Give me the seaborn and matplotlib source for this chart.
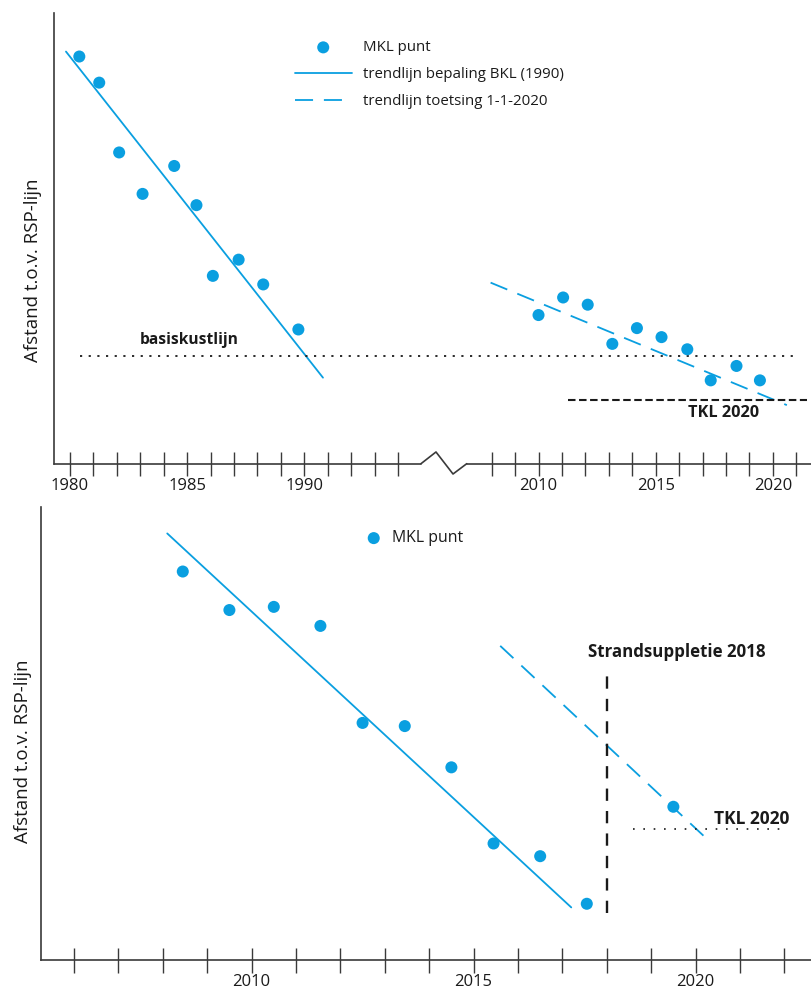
import numpy as np
import pandas as pd
import seaborn as sns
import matplotlib.pyplot as plt

# ---- bovenste grafiek: MKL punten (jaar, afstand t.o.v. RSP-lijn) ----
mkl_jaar_oud = [1980.4, 1981.25, 1982.1, 1983.1, 1984.45, 1985.4, 1986.1, 1987.2, 1988.25, 1989.75]
mkl_oud = [90.4, 84.6, 69.1, 59.9, 66.1, 57.4, 41.7, 45.3, 39.8, 29.8]
mkl_jaar_nieuw = [2010.0, 2011.05, 2012.1, 2013.15, 2014.2, 2015.25, 2016.35, 2017.35, 2018.45, 2019.45]
mkl_nieuw = [33.0, 36.9, 35.3, 26.6, 30.1, 28.1, 25.4, 18.5, 21.7, 18.5]

bkl_trend_jaar = [1979.83, 1990.8]
bkl_trend = [91.5, 19.1]
toets_trend_jaar = [2007.8, 2020.6]
toets_trend = [40.2, 13.0]
basiskustlijn = 23.9
basiskustlijn_jaren = [1980.45, 2021.0]
tkl_boven = 14.1
tkl_boven_jaren = [2011.25, 2021.45]

ticks_boven = list(range(1980, 1995)) + list(range(2008, 2022))
labels_boven = [str(j) if j % 5 == 0 else '' for j in ticks_boven]

# ---- onderste grafiek ----
mkl_jaar_2 = [2008.45, 2009.5, 2010.5, 2011.55, 2012.5, 2013.45, 2014.5, 2015.45, 2016.5, 2017.55, 2019.5]
mkl_2 = [85.7, 77.2, 77.9, 73.7, 52.3, 51.6, 42.5, 25.7, 22.9, 12.4, 33.8]
trend_jaar_2 = [2008.1, 2017.2]
trend_2 = [94.1, 11.6]
toets_jaar_2 = [2015.6, 2020.3]
toets_2 = [69.3, 26.3]
suppletie_jaar = 2018
suppletie_bereik = [10.3, 64.3]
tkl_onder = 29.0
tkl_onder_jaren = [2018.6, 2022.05]

ticks_onder = list(range(2006, 2023))
labels_onder = [str(j) if j % 5 == 0 else '' for j in ticks_onder]

blauw = '#0A9FE0'
donker = '#3a3a3a'
tekst = '#1a1a1a'

sns.set_style('white')
plt.rcParams['font.family'] = ['Open Sans', 'DejaVu Sans']


# gebroken tijdas: 1995-2008 wordt ingedrukt tot 3 jaar
def naar_as(j):
    j = np.asarray(j, dtype=float)
    return np.where(j <= 1995, j, np.where(j >= 2008, j - 10, 1995 + (j - 1995) * 3 / 13))


def van_as(p):
    p = np.asarray(p, dtype=float)
    return np.where(p <= 1995, p, np.where(p >= 1998, p + 10, 1995 + (p - 1995) * 13 / 3))


fig = plt.figure(figsize=(8.11, 9.91), dpi=100)
ax1 = fig.add_axes([0.0666, 0.5321, 0.9334, 0.4545])
ax2 = fig.add_axes([0.0502, 0.0313, 0.9498, 0.4574])

# ================= bovenste grafiek =================
ax1.set_xscale('function', functions=(naar_as, van_as))
sns.scatterplot(x=mkl_jaar_oud + mkl_jaar_nieuw, y=mkl_oud + mkl_nieuw, ax=ax1,
                color=blauw, s=75, edgecolor='none', label='MKL punt', zorder=3)
sns.lineplot(x=bkl_trend_jaar, y=bkl_trend, ax=ax1, color=blauw, lw=1.3,
             sort=False, estimator=None, label='trendlijn bepaling BKL (1990)')
sns.lineplot(x=toets_trend_jaar, y=toets_trend, ax=ax1, color=blauw, lw=1.3,
             linestyle=(0, (10, 6)), sort=False, estimator=None,
             label='trendlijn toetsing 1-1-2020')
ax1.hlines(basiskustlijn, *basiskustlijn_jaren, color=tekst, lw=1.3, linestyles=[(0, (1.2, 3.6))])
ax1.hlines(tkl_boven, *tkl_boven_jaren, color=tekst, lw=1.5, linestyles=[(0, (3.6, 1.7))])
ax1.text(1985.1, 27.5, 'basiskustlijn', fontsize=11.2, fontweight='bold', color=tekst,
         ha='center', va='center')
ax1.text(2017.9, 11.2, 'TKL 2020', fontsize=11.7, fontweight='bold', color=tekst,
         ha='center', va='center')

ax1.set_xlim(1979.32, 2021.63)
ax1.set_ylim(0, 100)
ax1.set_xticks(ticks_boven)
ax1.set_xticklabels(labels_boven)
ax1.set_yticks([])
ax1.set_ylabel('Afstand t.o.v. RSP-lijn', fontsize=13.5, color=tekst)
ax1.yaxis.set_label_coords(-0.0165, 0.43)

leg = ax1.legend(loc='upper left', bbox_to_anchor=(0.318, 0.94), frameon=False,
                 borderpad=0, borderaxespad=0, handlelength=3.8, handletextpad=0.75,
                 labelspacing=0.8, fontsize=10.8)
for t in leg.get_texts():
    t.set_color(tekst)

# as met breuk (zigzag)
for s in ['top', 'right', 'bottom']:
    ax1.spines[s].set_visible(False)
ax1.spines['left'].set_color(donker)
ax1.spines['left'].set_linewidth(1.2)
lijn = dict(transform=ax1.transAxes, clip_on=False, color=donker, lw=1.2)
ax1.plot([0, 0.4848], [0, 0], **lijn)
ax1.plot([0.4848, 0.5046, 0.5271, 0.5452], [0, 0.026, -0.0229, 0], **lijn)
ax1.plot([0.5452, 1], [0, 0], **lijn)

# ================= onderste grafiek =================
sns.scatterplot(x=mkl_jaar_2, y=mkl_2, ax=ax2, color=blauw, s=75, edgecolor='none',
                label='MKL punt', zorder=3)
sns.lineplot(x=trend_jaar_2, y=trend_2, ax=ax2, color=blauw, lw=1.3,
             sort=False, estimator=None)
sns.lineplot(x=toets_jaar_2, y=toets_2, ax=ax2, color=blauw, lw=1.3,
             linestyle=(0, (10, 6)), sort=False, estimator=None)
ax2.vlines(suppletie_jaar, *suppletie_bereik, color=tekst, lw=1.7, linestyles=[(0, (5.2, 4.3))])
ax2.hlines(tkl_onder, *tkl_onder_jaren, color=tekst, lw=1.2, linestyles=[(0, (1, 5.2))])
ax2.text(2019.58, 68.0, 'Strandsuppletie 2018', fontsize=12.2, fontweight='bold', color=tekst,
         ha='center', va='center')
ax2.text(2021.27, 31.1, 'TKL 2020', fontsize=12.5, fontweight='bold', color=tekst,
         ha='center', va='center')

ax2.set_xlim(2005.25, 2022.6)
ax2.set_ylim(0, 100)
ax2.set_xticks(ticks_onder)
ax2.set_xticklabels(labels_onder)
ax2.set_yticks([])
ax2.set_ylabel('Afstand t.o.v. RSP-lijn', fontsize=13.5, color=tekst)
ax2.yaxis.set_label_coords(-0.0113, 0.46)

leg2 = ax2.legend(loc='upper left', bbox_to_anchor=(0.42, 0.948), frameon=False,
                  borderpad=0, borderaxespad=0, handlelength=1.2, handletextpad=0.55,
                  fontsize=11.4)
for t in leg2.get_texts():
    t.set_color(tekst)

for s in ['top', 'right']:
    ax2.spines[s].set_visible(False)
for s in ['left', 'bottom']:
    ax2.spines[s].set_color(donker)
    ax2.spines[s].set_linewidth(1.2)

ax1.tick_params(axis='x', bottom=True, direction='inout', length=17, width=1, color=donker,
                labelsize=12, labelcolor=tekst, pad=2)
ax2.tick_params(axis='x', bottom=True, direction='inout', length=18, width=1, color=donker,
                labelsize=12, labelcolor=tekst, pad=1)

fig.savefig('out.png', dpi=100)
